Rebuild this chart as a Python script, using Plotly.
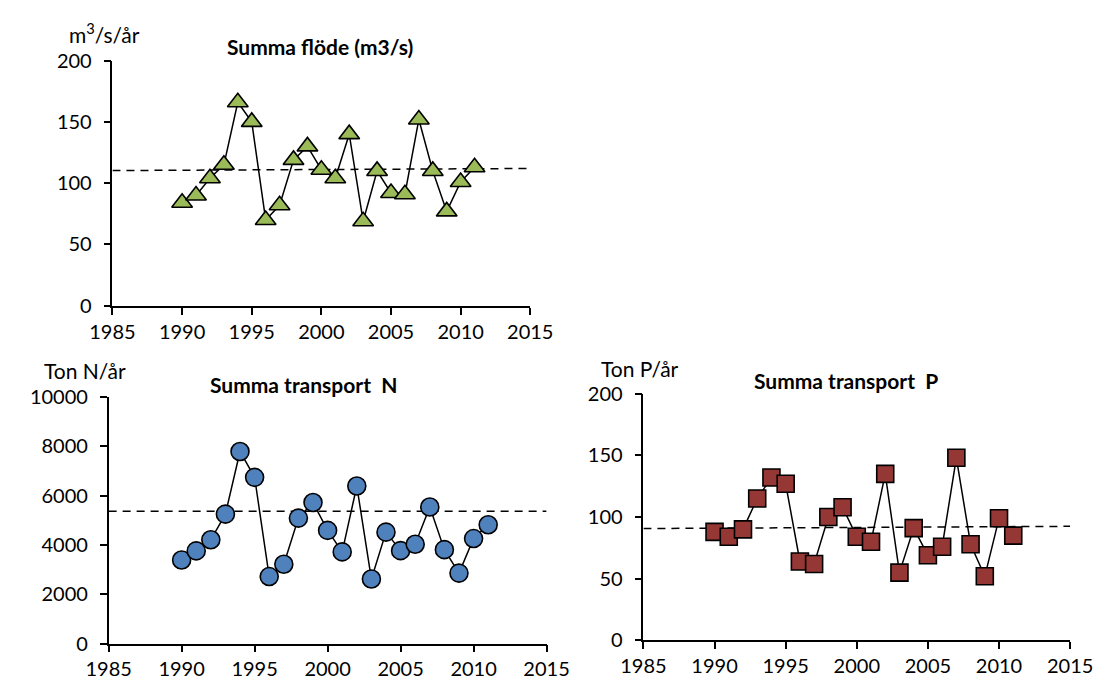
import plotly.graph_objects as go

years = list(range(1990, 2012))

flow = [84, 90, 104, 115, 166, 150, 70, 82, 119, 130, 111, 104, 140, 69, 110, 92, 91, 152, 110, 77, 101, 113]
nitrogen = [3390, 3760, 4210, 5250, 7790, 6740, 2720, 3220, 5090, 5720, 4590, 3720, 6390, 2620, 4520, 3770, 4030, 5540, 3810, 2860, 4260, 4820]
phosphorus = [88, 84, 90, 115, 132, 127, 64, 62, 100, 108, 84, 80, 135, 55, 91, 69, 76, 148, 78, 52, 99, 85]

trend_x = [1985, 2015]
flow_trend = [110.3, 112.0]
nitrogen_trend = [5370, 5370]
phosphorus_trend = [90.7, 92.5]

titles = ["Summa flöde (m3/s)", "Summa transport  N", "Summa transport  P"]
units = ["m<sup>3</sup>/s/år", "Ton N/år", "Ton P/år"]

FONT = "Lato"

fig = go.Figure()

def add_panel(idx, y, trend, symbol, color, size):
    xa = "x" if idx == 1 else f"x{idx}"
    ya = "y" if idx == 1 else f"y{idx}"
    fig.add_trace(go.Scatter(x=trend_x, y=trend, mode="lines", xaxis=xa, yaxis=ya,
                             line=dict(color="black", width=1.5, dash="8px,6px"),
                             showlegend=False, hoverinfo="skip"))
    fig.add_trace(go.Scatter(x=years, y=y, mode="lines+markers", xaxis=xa, yaxis=ya,
                             line=dict(color="black", width=1.5),
                             marker=dict(symbol=symbol, size=size, color=color,
                                         line=dict(color="black", width=1.6)),
                             showlegend=False))

add_panel(1, flow, flow_trend, "triangle-up", "#9BBB59", 18)
add_panel(2, nitrogen, nitrogen_trend, "circle", "#4F81BD", 18)
add_panel(3, phosphorus, phosphorus_trend, "square", "#953735", 17)

axis_common = dict(showline=True, linecolor="black", linewidth=1.5, ticks="outside",
                   ticklen=7, tickwidth=1.5, tickcolor="black", showgrid=False,
                   zeroline=False, tickformat="d",
                   tickfont=dict(family=FONT, size=20, color="black"))

xt = dict(range=[1985, 2015], tickvals=[1985, 1990, 1995, 2000, 2005, 2010, 2015], **axis_common)
yt = dict(ticklabelstandoff=8, **axis_common)

W, H = 1120, 693

def dom_x(a, b):
    return [a / W, b / W]

def dom_y(bottom, top):
    return [1 - bottom / H, 1 - top / H]

fig.update_layout(
    width=W, height=H,
    margin=dict(l=0, r=0, t=0, b=0),
    paper_bgcolor="white", plot_bgcolor="white",
    font=dict(family=FONT, color="black"),
    xaxis=dict(domain=dom_x(93.3, 529), anchor="y", **xt),
    yaxis=dict(domain=dom_y(303.3, 49.3), anchor="x", range=[0, 200], tickvals=[0, 50, 100, 150, 200], **yt),
    xaxis2=dict(domain=dom_x(89.3, 546), anchor="y2", **xt),
    yaxis2=dict(domain=dom_y(653.3, 397.7), anchor="x2", range=[0, 10000], tickvals=[0, 2000, 4000, 6000, 8000, 10000], **yt),
    xaxis3=dict(domain=dom_x(647, 1092), anchor="y3", **xt),
    yaxis3=dict(domain=dom_y(650, 394.3), anchor="x3", range=[0, 200], tickvals=[0, 50, 100, 150, 200], **yt),
)

title_pos = [(310, 35), (292, 385), (858, 381)]
unit_pos = [(85, 21), (65, 370), (643, 368)]
for (tx, ty), t in zip(title_pos, titles):
    fig.add_annotation(x=tx / W, y=1 - ty / H, xref="paper", yref="paper", text=f"<b>{t}</b>",
                       showarrow=False, font=dict(family=FONT, size=21, color="black"),
                       xanchor="center", yanchor="middle")
for (ux, uy), u in zip(unit_pos, units):
    fig.add_annotation(x=ux / W, y=1 - uy / H, xref="paper", yref="paper", text=u,
                       showarrow=False, font=dict(family=FONT, size=21, color="black"),
                       xanchor="center", yanchor="middle")

fig.write_html("out.html")
